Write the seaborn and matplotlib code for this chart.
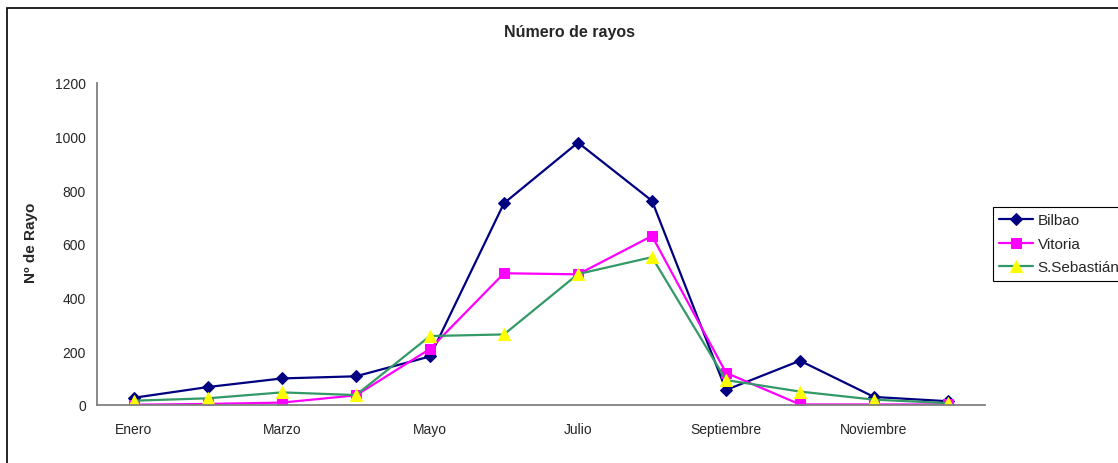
import matplotlib
matplotlib.use('Agg')
import matplotlib.pyplot as plt
import matplotlib.patches as mpatches
import numpy as np
import seaborn as sns


# Datos
meses = ['Enero', 'Febrero', 'Marzo', 'Abril', 'Mayo', 'Junio', 'Julio',
         'Agosto', 'Septiembre', 'Octubre', 'Noviembre', 'Diciembre']
bilbao = [27, 67, 99, 107, 181, 752, 978, 761, 56, 165, 30, 14]
vitoria = [1, 4, 9, 36, 209, 491, 487, 630, 120, 2, 2, 2]
san_sebastian = [16, 25, 47, 37, 257, 263, 488, 551, 93, 50, 20, 7]

etiquetas_x = ['Enero', '', 'Marzo', '', 'Mayo', '', 'Julio',
               '', 'Septiembre', '', 'Noviembre', '']
ticks_y = [0, 200, 400, 600, 800, 1000, 1200]

sns.set_style('white')
plt.rcParams['font.family'] = ['Liberation Sans', 'DejaVu Sans']

W, H = 1118, 464
fig = plt.figure(figsize=(W / 100, H / 100), dpi=100)
ax = fig.add_axes([97 / W, 1 - 406 / H, (985 - 97) / W, (406 - 84) / H])

# Series
sns.lineplot(x=meses, y=bilbao, ax=ax, color='#000080', linewidth=1.6,
             marker='D', markersize=6.5, markeredgecolor='#000080',
             markerfacecolor='#000080', label='Bilbao', sort=False)
sns.lineplot(x=meses, y=vitoria, ax=ax, color='#FF00FF', linewidth=1.6,
             marker='s', markersize=7.5, markeredgecolor='#FF00FF',
             markerfacecolor='#FF00FF', label='Vitoria', sort=False)
sns.lineplot(x=meses, y=san_sebastian, ax=ax, color='#339966', linewidth=1.6,
             marker='^', markersize=9, markeredgecolor='#FFFF00',
             markerfacecolor='#FFFF00', label='S.Sebastián', sort=False)

# Ejes
ax.set_xlim(-0.5, len(meses) - 0.5)
ax.set_ylim(0, 1200)
ax.set_yticks(ticks_y)
ax.set_yticklabels([str(t) for t in ticks_y], fontsize=10)
ax.set_xticks(range(len(meses)))
ax.set_xticklabels(etiquetas_x, fontsize=10)
ax.set_xticks(np.arange(-0.5, len(meses)), minor=True)
ax.tick_params(axis='x', which='major', length=0, pad=12)
ax.tick_params(axis='x', which='minor', length=5, width=1, color='#808080',
               direction='out')
ax.tick_params(axis='y', length=5, width=1, color='#808080',
               direction='out', pad=3)
for side in ['top', 'right']:
    ax.spines[side].set_visible(False)
for side in ['left', 'bottom']:
    ax.spines[side].set_color('#808080')
    ax.spines[side].set_linewidth(1.3)
ax.set_xlabel('')
ax.set_ylabel('')
ax.grid(False)

# Titulo
fig.text(570 / W, 1 - 33 / H, 'Número de rayos', ha='center', va='center',
         fontsize=11.5, fontweight='bold')

# Etiqueta eje Y (recortada arriba como en el original)
fig.text(31 / W, 1 - 283 / H, 'Nº de Rayos', ha='center', va='bottom',
         rotation=90, fontsize=11, fontweight='bold')
fig.patches.append(mpatches.Rectangle((15 / W, 1 - 205 / H), 35 / W, 60 / H,
                                      transform=fig.transFigure,
                                      facecolor='white', edgecolor='none',
                                      zorder=10))

# Leyenda
ax.legend(loc='upper left', bbox_to_anchor=(993 / W, 1 - 208 / H),
          bbox_transform=fig.transFigure, fontsize=11, frameon=True,
          fancybox=False, edgecolor='#000000', framealpha=1,
          borderpad=0.42, labelspacing=0.62, handlelength=2.2,
          handletextpad=0.3, borderaxespad=0)
ax.get_legend().get_frame().set_linewidth(0.8)

# Marco del area del grafico
fig.patches.append(mpatches.Rectangle((7 / W, -0.1), 1.2, 1 - 9 / H + 0.1,
                                      transform=fig.transFigure, fill=False,
                                      edgecolor='black', linewidth=1.2))

fig.savefig('out.png', dpi=100)
